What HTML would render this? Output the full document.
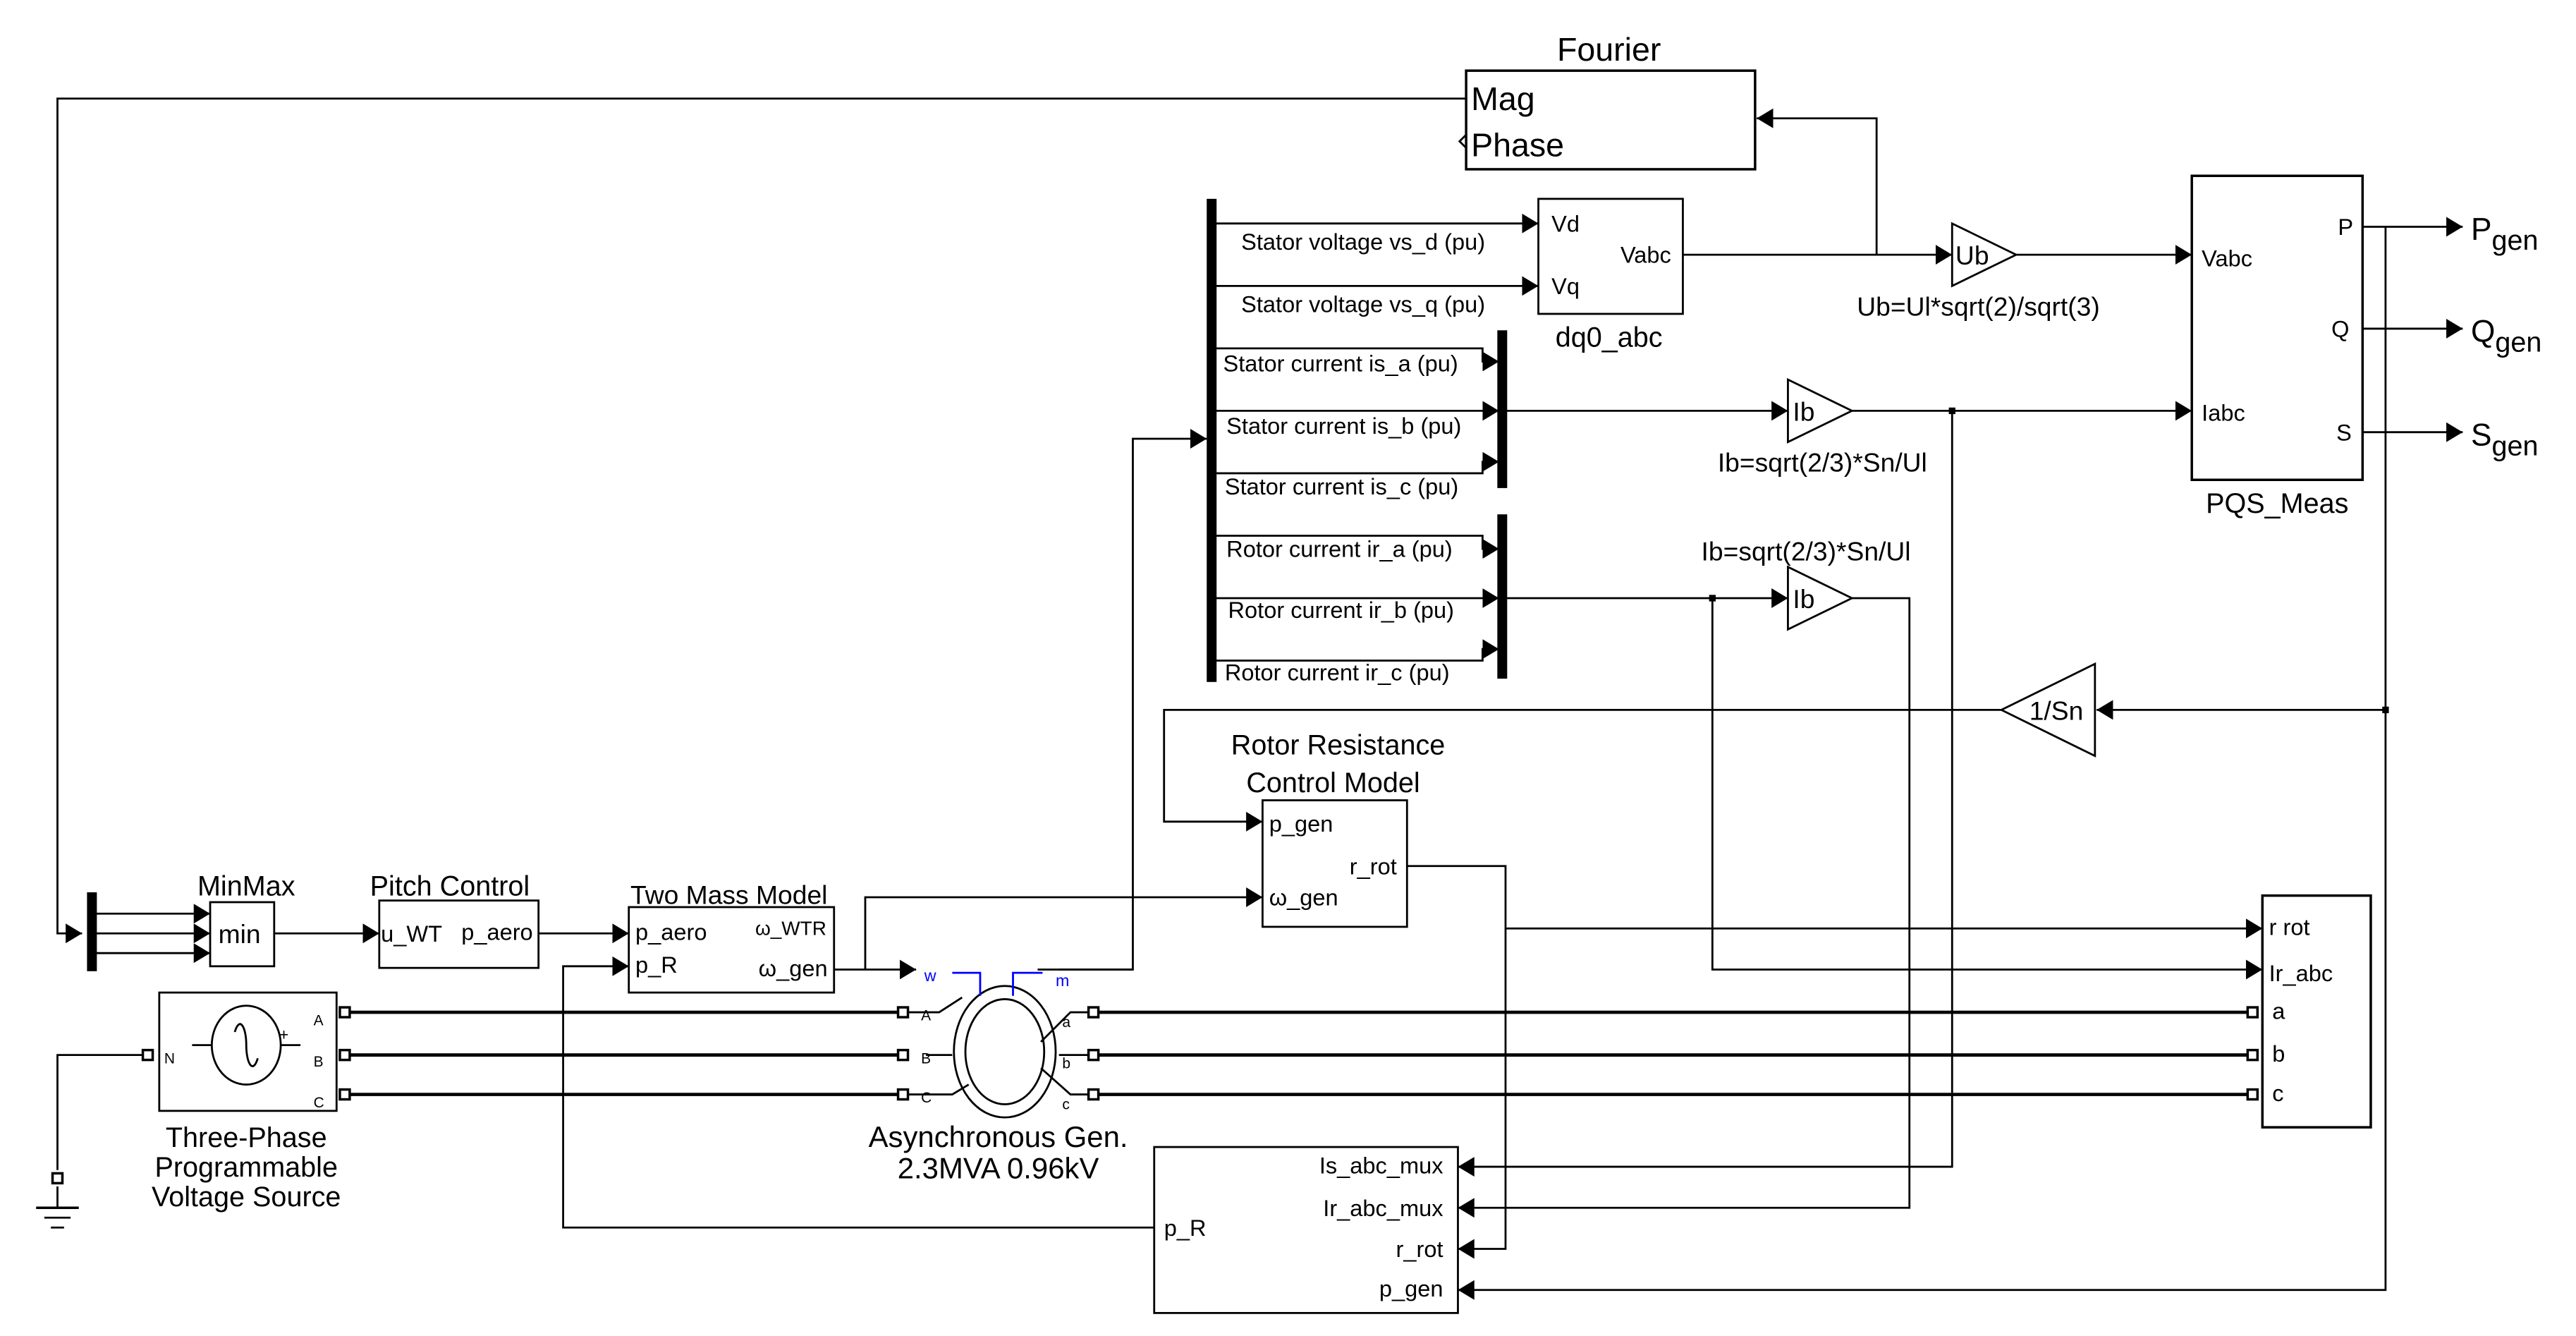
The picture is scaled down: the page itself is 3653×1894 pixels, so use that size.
<!DOCTYPE html>
<html><head><meta charset="utf-8"><style>
html,body{margin:0;padding:0;background:#fff;}
svg{display:block;}
text{font-family:"Liberation Sans",sans-serif;fill:#000;}
</style></head><body>
<svg width="3653" height="1894" viewBox="0 0 1569 813" preserveAspectRatio="none" xmlns="http://www.w3.org/2000/svg">
<defs>
<marker id="a" viewBox="0 0 10 12" refX="10" refY="6" markerWidth="10" markerHeight="12" markerUnits="userSpaceOnUse" orient="auto"><path d="M0,0 L10,6 L0,12z" fill="#000"/></marker>
</defs>
<g fill="none" stroke="#000" stroke-width="1.2">
<polyline points="893,60 35,60 35,568 50,568" marker-end="url(#a)"/>
<polyline points="1143,155 1143,72 1070,72" marker-end="url(#a)"/>
<rect x="893" y="43" width="176" height="60" stroke-width="1.5"/>
<polyline points="893,82 889,86 893,90"/>
<line x1="740" y1="136" x2="937" y2="136" marker-end="url(#a)"/>
<line x1="740" y1="174" x2="937" y2="174" marker-end="url(#a)"/>
<rect x="937" y="121" width="88" height="70"/>
<line x1="1025" y1="155" x2="1189" y2="155" marker-end="url(#a)"/>
<polygon points="1189,136 1228,155 1189,174"/>
<line x1="1228" y1="155" x2="1335" y2="155" marker-end="url(#a)"/>
<rect x="1335" y="107" width="104" height="185" stroke-width="1.5"/>
<line x1="1439" y1="138" x2="1500" y2="138" marker-end="url(#a)"/>
<line x1="1439" y1="200" x2="1500" y2="200" marker-end="url(#a)"/>
<line x1="1439" y1="263" x2="1500" y2="263" marker-end="url(#a)"/>
<polyline points="1453,138 1453,785 888,785" marker-end="url(#a)"/>
<polyline points="740,212 903,212 903,220 913,220" marker-end="url(#a)"/>
<line x1="740" y1="250" x2="913" y2="250" marker-end="url(#a)"/>
<polyline points="740,288 903,288 903,281 913,281" marker-end="url(#a)"/>
<polyline points="740,326 903,326 903,334 913,334" marker-end="url(#a)"/>
<line x1="740" y1="364" x2="913" y2="364" marker-end="url(#a)"/>
<polyline points="740,402 903,402 903,395 913,395" marker-end="url(#a)"/>
<line x1="917" y1="250" x2="1089" y2="250" marker-end="url(#a)"/>
<polygon points="1089,231 1128,250 1089,269"/>
<line x1="1128" y1="250" x2="1335" y2="250" marker-end="url(#a)"/>
<polyline points="1189,250 1189,710 888,710" marker-end="url(#a)"/>
<line x1="917" y1="364" x2="1089" y2="364" marker-end="url(#a)"/>
<polygon points="1089,345 1128,364 1089,383"/>
<polyline points="1043,364 1043,590 1378,590" marker-end="url(#a)"/>
<polyline points="1128,364 1163,364 1163,735 888,735" marker-end="url(#a)"/>
<line x1="1453" y1="432" x2="1277" y2="432" marker-end="url(#a)"/>
<polygon points="1276,404 1219,432 1276,460"/>
<polyline points="1219,432 709,432 709,500 769,500" marker-end="url(#a)"/>
<rect x="769" y="487" width="88" height="77"/>
<polyline points="857,527 917,527 917,760 888,760" marker-end="url(#a)"/>
<line x1="917" y1="565" x2="1378" y2="565" marker-end="url(#a)"/>
<polyline points="632,590 690,590 690,267 735,267" marker-end="url(#a)"/>
<line x1="58" y1="556" x2="128" y2="556" marker-end="url(#a)"/>
<line x1="58" y1="568" x2="128" y2="568" marker-end="url(#a)"/>
<line x1="58" y1="580" x2="128" y2="580" marker-end="url(#a)"/>
<rect x="128" y="549" width="39" height="39"/>
<line x1="167" y1="568" x2="231" y2="568" marker-end="url(#a)"/>
<rect x="231" y="548" width="97" height="41"/>
<line x1="328" y1="568" x2="383" y2="568" marker-end="url(#a)"/>
<rect x="383" y="552" width="125" height="52"/>
<polyline points="703,747 343,747 343,588 383,588" marker-end="url(#a)"/>
<polyline points="508,590 527,590 527,546 769,546" marker-end="url(#a)"/>
<line x1="527" y1="590" x2="558" y2="590" marker-end="url(#a)"/>
<rect x="703" y="698" width="185" height="101"/>
<rect x="1378" y="545" width="66" height="141" stroke-width="1.5"/>
<rect x="97" y="604" width="108" height="72"/>
<ellipse cx="150" cy="636" rx="21" ry="24"/>
<path d="M143,628 C146,618 150,625 150,636 C150,647 154,654 157,644"/>
<line x1="117" y1="636" x2="129" y2="636"/><line x1="171" y1="636" x2="183" y2="636"/>
<polyline points="90,642 35,642 35,712"/>
<line x1="35" y1="722" x2="35" y2="735"/>
<line x1="22" y1="735" x2="48" y2="735" stroke-width="1.5"/>
<line x1="27" y1="741" x2="43" y2="741"/>
<line x1="31" y1="747" x2="39" y2="747"/>
<ellipse cx="612" cy="640" rx="31" ry="40"/>
<ellipse cx="612" cy="640" rx="24" ry="32"/>
<polyline points="552,616 572,616 586,607"/>
<polyline points="564,642 580,642"/>
<polyline points="552,666 580,666 590,660"/>
<polyline points="665,616 652,616 634,634"/>
<polyline points="665,642 645,642"/>
<polyline points="665,666 652,666 634,650"/>
<polyline points="580,592 597,592 597,606" stroke="#0000ff"/>
<polyline points="617,606 617,592 635,592" stroke="#0000ff"/>
<polyline points="645,590 690,590"/>
</g>
<g stroke="#000" stroke-width="2" fill="none">
<line x1="210" y1="616" x2="552" y2="616"/>
<line x1="210" y1="642" x2="552" y2="642"/>
<line x1="210" y1="666" x2="552" y2="666"/>
<line x1="665" y1="616" x2="1372" y2="616"/>
<line x1="665" y1="642" x2="1372" y2="642"/>
<line x1="665" y1="666" x2="1372" y2="666"/>
</g>
<g fill="#000">
<rect x="735" y="121" width="6" height="294"/>
<rect x="912" y="201" width="6" height="96"/>
<rect x="912" y="313" width="6" height="100"/>
<rect x="53" y="543" width="6" height="48"/>
<rect x="1187" y="248" width="4" height="4"/><rect x="1041" y="362" width="4" height="4"/><rect x="1451" y="430" width="4" height="4"/>
</g>
<g fill="#fff" stroke="#000" stroke-width="1.5">
<rect x="87" y="639" width="6" height="6"/><rect x="207" y="613" width="6" height="6"/><rect x="207" y="639" width="6" height="6"/><rect x="207" y="663" width="6" height="6"/>
<rect x="547" y="613" width="6" height="6"/><rect x="547" y="639" width="6" height="6"/><rect x="547" y="663" width="6" height="6"/>
<rect x="663" y="613" width="6" height="6"/><rect x="663" y="639" width="6" height="6"/><rect x="663" y="663" width="6" height="6"/>
<rect x="1369" y="613" width="6" height="6"/><rect x="1369" y="639" width="6" height="6"/><rect x="1369" y="663" width="6" height="6"/>
<rect x="32" y="714" width="6" height="6"/>
</g>
<g font-size="14">
<text x="980" y="37" font-size="20" text-anchor="middle">Fourier</text>
<text x="896" y="67" font-size="20">Mag</text>
<text x="896" y="95" font-size="20">Phase</text>
<text x="756" y="152">Stator voltage vs_d (pu)</text>
<text x="756" y="190">Stator voltage vs_q (pu)</text>
<text x="745" y="226">Stator current is_a (pu)</text>
<text x="747" y="264">Stator current is_b (pu)</text>
<text x="746" y="301">Stator current is_c (pu)</text>
<text x="747" y="339">Rotor current ir_a (pu)</text>
<text x="748" y="376">Rotor current ir_b (pu)</text>
<text x="746" y="414">Rotor current ir_c (pu)</text>
<text x="945" y="141">Vd</text><text x="945" y="179">Vq</text><text x="987" y="160">Vabc</text>
<text x="980" y="211" font-size="17" text-anchor="middle">dq0_abc</text>
<text x="1191" y="161" font-size="16">Ub</text>
<text x="1205" y="192" font-size="16" text-anchor="middle">Ub=Ul*sqrt(2)/sqrt(3)</text>
<text x="1092" y="256" font-size="16">Ib</text>
<text x="1110" y="287" font-size="16" text-anchor="middle">Ib=sqrt(2/3)*Sn/Ul</text>
<text x="1092" y="370" font-size="16">Ib</text>
<text x="1100" y="341" font-size="16" text-anchor="middle">Ib=sqrt(2/3)*Sn/Ul</text>
<text x="1236" y="438" font-size="16">1/Sn</text>
<text x="1341" y="162">Vabc</text><text x="1341" y="256">Iabc</text>
<text x="1424" y="143">P</text><text x="1420" y="205">Q</text><text x="1423" y="268">S</text>
<text x="1505" y="146" font-size="19">P<tspan font-size="17" dy="6">gen</tspan></text>
<text x="1505" y="208" font-size="19">Q<tspan font-size="17" dy="6">gen</tspan></text>
<text x="1505" y="271" font-size="19">S<tspan font-size="17" dy="6">gen</tspan></text>
<text x="1387" y="312" font-size="17" text-anchor="middle">PQS_Meas</text>
<text x="815" y="459" font-size="17" text-anchor="middle">Rotor Resistance</text>
<text x="812" y="482" font-size="17" text-anchor="middle">Control Model</text>
<text x="773" y="506">p_gen</text><text x="822" y="532">r_rot</text><text x="773" y="551">ω_gen</text>
<text x="150" y="545" font-size="17" text-anchor="middle">MinMax</text>
<text x="133" y="574" font-size="16">min</text>
<text x="274" y="545" font-size="17" text-anchor="middle">Pitch Control</text>
<text x="232" y="573">u_WT</text><text x="281" y="572">p_aero</text>
<text x="444" y="550" font-size="16" text-anchor="middle">Two Mass Model</text>
<text x="387" y="572">p_aero</text><text x="387" y="592">p_R</text>
<text x="460" y="569" font-size="12">ω_WTR</text><text x="462" y="594">ω_gen</text>
<text x="563" y="597" font-size="10" style="fill:#0000ff">w</text>
<text x="643" y="600" font-size="10" style="fill:#0000ff">m</text>
<text x="561" y="621" font-size="9">A</text><text x="561" y="647" font-size="9">B</text><text x="561" y="671" font-size="9">C</text>
<text x="647" y="625" font-size="9">a</text><text x="647" y="650" font-size="9">b</text><text x="647" y="675" font-size="9">c</text>
<text x="608" y="698" font-size="18" text-anchor="middle">Asynchronous Gen.</text>
<text x="608" y="717" font-size="18" text-anchor="middle">2.3MVA 0.96kV</text>
<text x="100" y="647" font-size="9">N</text>
<text x="191" y="624" font-size="9">A</text><text x="191" y="649" font-size="9">B</text><text x="191" y="674" font-size="9">C</text>
<text x="170" y="633" font-size="10">+</text>
<text x="150" y="698" font-size="17" text-anchor="middle">Three-Phase</text>
<text x="150" y="716" font-size="17" text-anchor="middle">Programmable</text>
<text x="150" y="734" font-size="17" text-anchor="middle">Voltage Source</text>
<text x="709" y="752">p_R</text>
<text x="879" y="714" text-anchor="end">Is_abc_mux</text>
<text x="879" y="740" text-anchor="end">Ir_abc_mux</text>
<text x="879" y="765" text-anchor="end">r_rot</text>
<text x="879" y="789" text-anchor="end">p_gen</text>
<text x="1382" y="569">r  rot</text>
<text x="1382" y="597">Ir_abc</text>
<text x="1384" y="620">a</text><text x="1384" y="646">b</text><text x="1384" y="670">c</text>
</g>
</svg>
</body></html>
